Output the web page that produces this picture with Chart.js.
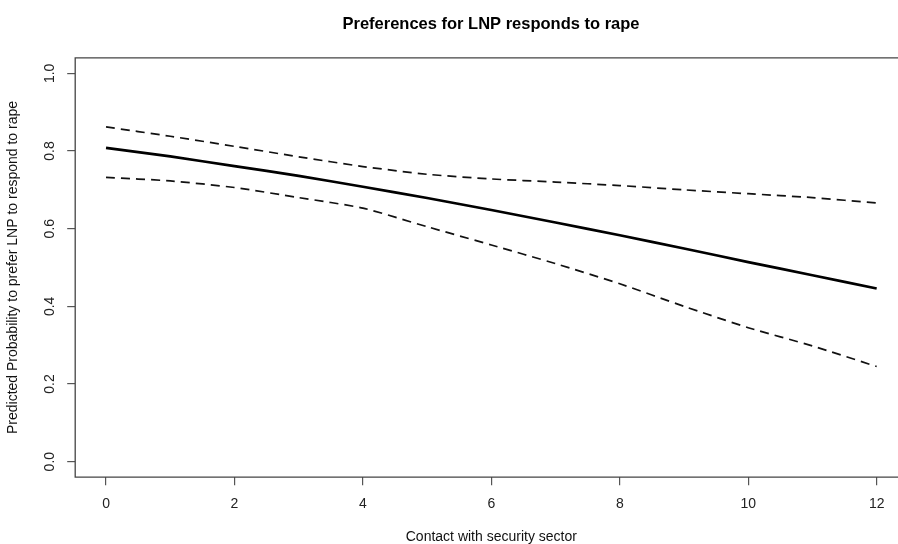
<!DOCTYPE html>
<html>
<head>
<meta charset="utf-8">
<script src="https://cdn.jsdelivr.net/npm/chart.js@4"></script>
<style>
  html, body { margin: 0; padding: 0; background: #fff; overflow: hidden; }
  #wrap { width: 982px; height: 544px; }
</style>
</head>
<body>
<div id="wrap"><canvas id="plot" width="982" height="544"></canvas></div>
<script>
// contact with security sector (x) and predicted probabilities
const contact = [0, 1, 2, 3, 4, 5, 6, 7, 8, 9, 10, 11, 12];
const predicted = [0.808, 0.786, 0.761, 0.736, 0.708, 0.679, 0.648, 0.616, 0.583, 0.549, 0.514, 0.480, 0.446];
const upperCI = [0.862, 0.838, 0.812, 0.785, 0.760, 0.740, 0.728, 0.720, 0.711, 0.700, 0.690, 0.680, 0.666];
const lowerCI = [0.732, 0.723, 0.706, 0.680, 0.653, 0.605, 0.558, 0.510, 0.458, 0.400, 0.345, 0.298, 0.245];
const xTicks = [0, 2, 4, 6, 8, 10, 12];
const yTicks = [0, 0.2, 0.4, 0.6, 0.8, 1.0];

const font = "'Liberation Sans', Arial, Helvetica, sans-serif";

function toPoints(ys) {
    return contact.map((x, i) => ({ x: x, y: ys[i] }));
}

// R-style box around the plot region (right side falls outside the window)
const boxPlugin = {
    id: 'box',
    afterDraw(chart) {
        const a = chart.chartArea;
        const ctx = chart.ctx;
        ctx.save();
        ctx.strokeStyle = '#444';
        ctx.lineWidth = 1.3;
        ctx.beginPath();
        ctx.moveTo(a.right, a.top);
        ctx.lineTo(a.left, a.top);
        ctx.lineTo(a.left, a.bottom);
        ctx.lineTo(a.right, a.bottom);
        ctx.stroke();
        ctx.restore();
    }
};

new Chart(document.getElementById('plot'), {
    type: 'line',
    data: {
        datasets: [
            {
                label: 'upper',
                data: toPoints(upperCI),
                borderColor: '#111',
                borderWidth: 1.7,
                borderDash: [9, 6],
                pointRadius: 0,
                tension: 0.2
            },
            {
                label: 'lower',
                data: toPoints(lowerCI),
                borderColor: '#111',
                borderWidth: 1.7,
                borderDash: [9, 6],
                pointRadius: 0,
                tension: 0.2
            },
            {
                label: 'predicted',
                data: toPoints(predicted),
                borderColor: '#000',
                borderWidth: 2.7,
                pointRadius: 0,
                tension: 0.2
            }
        ]
    },
    options: {
        responsive: false,
        animation: false,
        layout: { padding: 0 },
        plugins: {
            legend: { display: false },
            tooltip: { enabled: false },
            title: {
                display: true,
                text: 'Preferences for LNP responds to rape',
                color: '#000',
                font: { family: font, size: 16.5, weight: 'bold', lineHeight: 1.2 },
                padding: { top: 15, bottom: 23 }
            }
        },
        scales: {
            x: {
                type: 'linear',
                min: -0.48,
                max: 12.48,
                afterBuildTicks: s => { s.ticks = xTicks.map(v => ({ value: v })); },
                afterFit: s => { s.height = 66.8; },
                ticks: {
                    color: '#222',
                    font: { family: font, size: 14 },
                    padding: 11,
                    maxRotation: 0,
                    callback: v => String(v)
                },
                grid: { display: true, drawOnChartArea: false, drawTicks: true, tickLength: 8, color: '#555', lineWidth: 1.2 },
                border: { display: false },
                title: {
                    display: true,
                    text: 'Contact with security sector',
                    color: '#111',
                    font: { family: font, size: 14, lineHeight: 1 },
                    padding: { top: 0, bottom: 0 }
                }
            },
            y: {
                type: 'linear',
                position: 'left',
                min: -0.04,
                max: 1.04,
                afterBuildTicks: s => { s.ticks = yTicks.map(v => ({ value: v })); },
                afterFit: s => { s.width = 75.2; },
                ticks: {
                    color: '#222',
                    font: { family: font, size: 14 },
                    padding: 7,
                    minRotation: 90,
                    maxRotation: 90,
                    crossAlign: 'center',
                    callback: v => v.toFixed(1)
                },
                grid: { display: true, drawOnChartArea: false, drawTicks: true, tickLength: 8, color: '#555', lineWidth: 1.2 },
                border: { display: false },
                title: {
                    display: true,
                    text: 'Predicted Probability to prefer LNP to respond to rape',
                    color: '#111',
                    font: { family: font, size: 14, lineHeight: 1.2 },
                    padding: { top: 4.6, bottom: 0 }
                }
            },
            yRight: {
                type: 'linear',
                position: 'right',
                display: true,
                afterFit: s => { s.width = 74.5; },
                ticks: { display: false },
                grid: { display: false },
                border: { display: false }
            }
        }
    },
    plugins: [boxPlugin]
});
</script>
</body>
</html>
